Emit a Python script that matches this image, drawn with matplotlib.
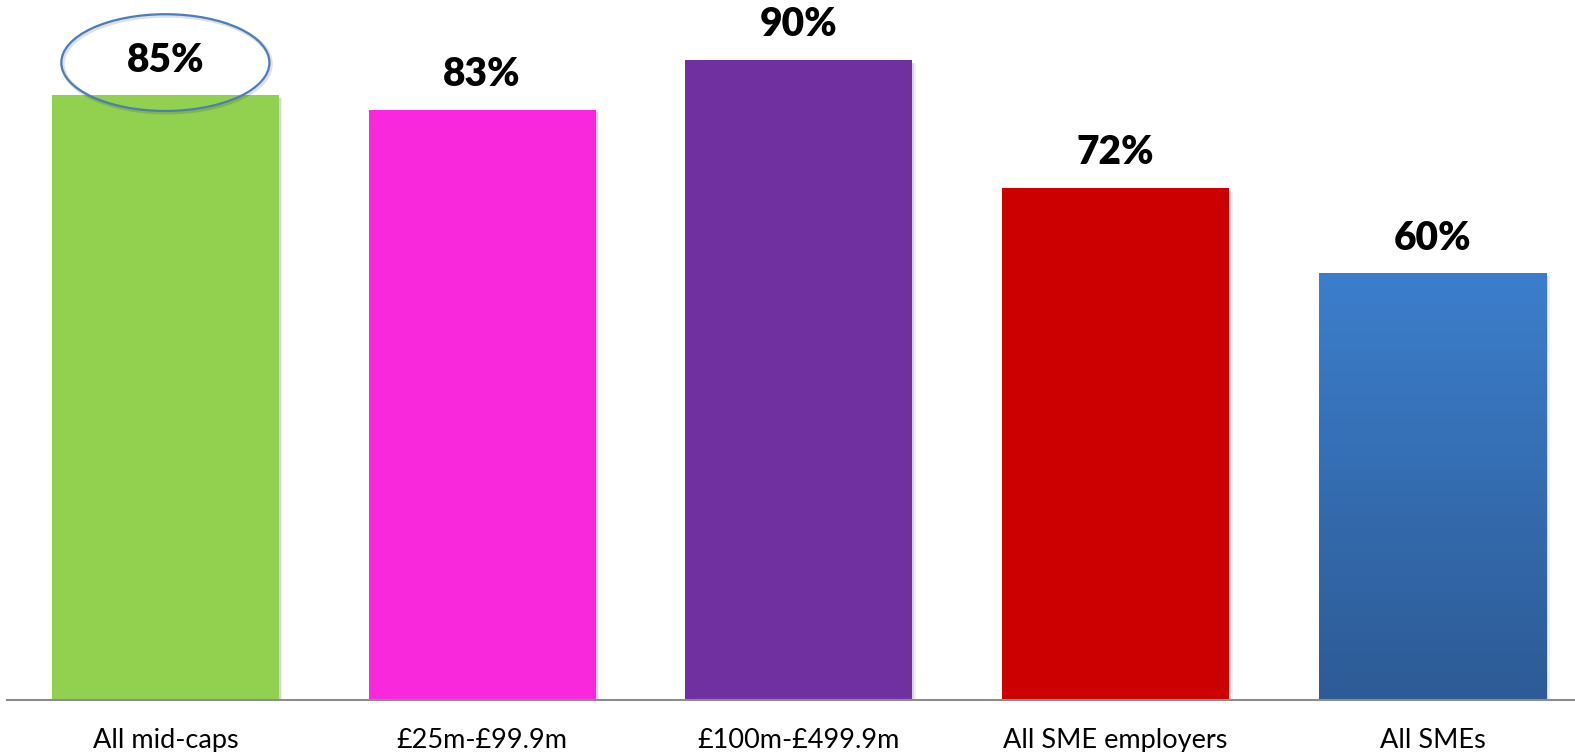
import matplotlib.pyplot as plt
import numpy as np
from matplotlib.colors import LinearSegmentedColormap
from matplotlib.patches import Ellipse

categories = ["All mid-caps", "£25m-£99.9m", "£100m-£499.9m", "All SME employers", "All SMEs"]
values = [85, 83, 90, 72, 60]
labels = ["85%", "83%", "90%", "72%", "60%"]
colors = ["#92d050", "#fa28dc", "#7030a0", "#cc0000", "#3a7bc8"]

plt.rcParams["font.family"] = ["Lato", "DejaVu Sans"]

fig = plt.figure(figsize=(15.75, 7.52), dpi=100)
ax = fig.add_axes([7 / 1575, 52 / 752, 1 - 7 / 1575, 1 - 52 / 752])

x = np.arange(len(categories))
width = 0.717

# soft drop shadow under each bar
for dx, alpha in [(0.006, 0.10), (0.011, 0.06)]:
    ax.bar(x + dx, values, width=width, bottom=-0.4, color="black", alpha=alpha, linewidth=0, zorder=1)

bars = ax.bar(x, values, width=width, color=colors, linewidth=0, zorder=2)

# vertical gradient on the last bar
blue = LinearSegmentedColormap.from_list("blue_grad", ["#2d5b95", "#3c7ecc"])
last = bars[-1]
grad = np.linspace(0, 1, 256).reshape(-1, 1)
img = ax.imshow(
    grad,
    cmap=blue,
    origin="lower",
    aspect="auto",
    extent=(last.get_x(), last.get_x() + last.get_width(), 0, last.get_height()),
    zorder=2.5,
)
img.set_clip_path(last)
ax.set_xlim(-0.5, 4.45)
ax.set_ylim(0, 98.4)

for xi, v, lab in zip(x, values, labels):
    ax.text(xi, v + 4.9, lab, ha="center", va="center", fontsize=28, fontweight="heavy", color="black", zorder=4)

# highlight ring round the first label
ring_shadow = Ellipse((x[0] + 0.004, values[0] + 4.4), 0.657, 13.6, fill=False, edgecolor="black", alpha=0.12, linewidth=3, zorder=3)
ring = Ellipse((x[0], values[0] + 4.6), 0.657, 13.6, fill=False, edgecolor="#4a7ebb", linewidth=1.6, zorder=3.5)
ax.add_patch(ring_shadow)
ax.add_patch(ring)

for s in ["top", "right", "left"]:
    ax.spines[s].set_visible(False)
ax.spines["bottom"].set_color("#8c8c8c")
ax.spines["bottom"].set_linewidth(1.5)
ax.spines["bottom"].set_zorder(5)

ax.set_yticks([])
ax.set_xticks(x)
ax.set_xticklabels(categories, fontsize=19.5)
ax.tick_params(axis="x", length=0, pad=20)

fig.savefig("out.png", dpi=100)
